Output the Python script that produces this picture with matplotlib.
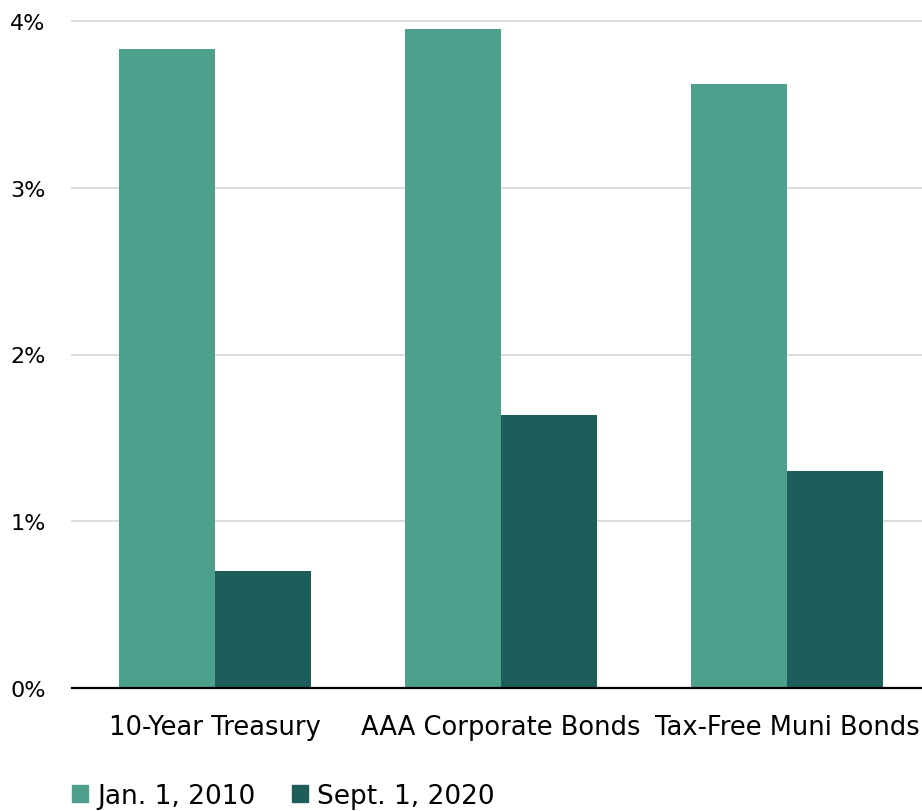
import matplotlib.pyplot as plt
import numpy as np
from matplotlib.patches import Patch

categories = ['10-Year Treasury', 'AAA Corporate Bonds', 'Tax-Free Muni Bonds']
jan_2010 = [3.83, 3.95, 3.62]
sept_2020 = [0.70, 1.64, 1.30]
series_names = ['Jan. 1, 2010', 'Sept. 1, 2020']
colors = ['#4DA08C', '#1E5E5A']
y_ticks = [0, 1, 2, 3, 4]

plt.rcParams['font.family'] = ['DejaVu Sans']

fig = plt.figure(figsize=(9.22, 8.12), dpi=100)
ax = fig.add_axes([72 / 922, 1 - 689 / 812, 850 / 922, 667 / 812])

x = np.arange(len(categories))
w = 0.334
ax.bar(x - w / 2, jan_2010, w, color=colors[0], zorder=2)
ax.bar(x + w / 2, sept_2020, w, color=colors[1], zorder=2)

ax.set_xlim(-0.5, 2.5 - 8 / 286)
ax.set_ylim(0, 4)
ax.set_yticks(y_ticks)
ax.set_yticklabels([f'{t}%' for t in y_ticks], fontsize=16)
ax.set_xticks(x)
ax.set_xticklabels(categories, fontsize=18.5)
ax.tick_params(axis='y', length=0, pad=19)
ax.tick_params(axis='x', length=0, pad=19)

ax.grid(axis='y', color='#D9D9D9', linewidth=1.3, zorder=0)
for line in ax.get_ygridlines():
    line.set_clip_on(False)
for s in ['top', 'right', 'left']:
    ax.spines[s].set_visible(False)
ax.spines['bottom'].set_color('#000000')
ax.spines['bottom'].set_linewidth(1.6)
ax.spines['bottom'].set_zorder(3)

handles = [Patch(color=c, label=n) for c, n in zip(colors, series_names)]
fig.legend(handles=handles, loc='center left', bbox_to_anchor=(48 / 922, 1 - 797 / 812),
           ncol=2, frameon=False, fontsize=19, handlelength=0.6, handleheight=0.6,
           handletextpad=0.35, columnspacing=1.4)

fig.savefig('out.png', dpi=100)
